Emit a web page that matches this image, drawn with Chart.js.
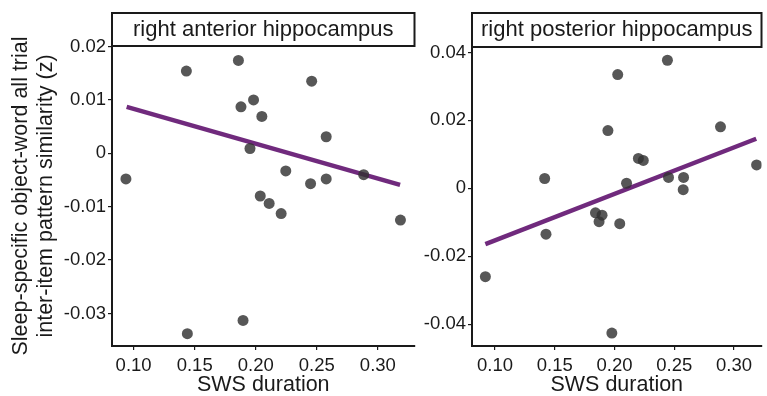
<!DOCTYPE html>
<html>
<head>
<meta charset="utf-8">
<script src="https://cdn.jsdelivr.net/npm/chart.js@4"></script>
<style>
  body { margin: 0; background: #fff; }
  .wrap { position: absolute; top: 0; height: 396px; }
  #leftWrap { left: 0; width: 420px; }
  #rightWrap { left: 420px; width: 347px; }
</style>
</head>
<body>
<div class="wrap" id="leftWrap"><canvas id="leftChart"></canvas></div>
<div class="wrap" id="rightWrap"><canvas id="rightChart"></canvas></div>
<script>
// x ticks shared by both panels
const xTicks = [0.10, 0.15, 0.20, 0.25, 0.30];
const xTickLabels = ['0.10', '0.15', '0.20', '0.25', '0.30'];

// right anterior hippocampus
const antSws = [0.0937, 0.1432, 0.1440, 0.1858, 0.1879, 0.1896, 0.1953, 0.1982, 0.2037, 0.2050,
                0.2110, 0.2208, 0.2246, 0.2449, 0.2458, 0.2577, 0.2577, 0.2884, 0.3185];
const antSim = [-0.0048, 0.0154, -0.0338, 0.0174, 0.0087, -0.0313, 0.0009, 0.0100, -0.0080, 0.0069,
                -0.0094, -0.0113, -0.0033, -0.0057, 0.0135, -0.0048, 0.0031, -0.0040, -0.0125];
const antFitX = [0.0943, 0.3182];
const antFitY = [0.0087, -0.0059];
const antYTicks = [-0.03, -0.02, -0.01, 0, 0.01, 0.02];
const antYTickLabels = ['-0.03', '-0.02', '-0.01', '0', '0.01', '0.02'];

// right posterior hippocampus
const postSws = [0.0920, 0.1416, 0.1427, 0.1841, 0.1871, 0.1896, 0.1945, 0.1978, 0.2027, 0.2044,
                 0.2101, 0.2200, 0.2241, 0.2443, 0.2452, 0.2575, 0.2578, 0.2887, 0.3189];
const postSim = [-0.0260, 0.0029, -0.0135, -0.0072, -0.0098, -0.0079, 0.0170, -0.0426, 0.0335, -0.0104,
                 0.0015, 0.0088, 0.0082, 0.0377, 0.0032, -0.0004, 0.0032, 0.0181, 0.0069];
const postFitX = [0.0920, 0.3186];
const postFitY = [-0.0164, 0.0146];
const postYTicks = [-0.04, -0.02, 0, 0.02, 0.04];
const postYTickLabels = ['-0.04', '-0.02', '0', '0.02', '0.04'];

const yTitle = ['Sleep-specific object-word all trial', 'inter-item pattern similarity (z)'];
const xTitle = 'SWS duration';

const FONT = "'Liberation Sans', Arial, Helvetica, sans-serif";
Chart.defaults.font.family = FONT;
Chart.defaults.color = '#1a1a1a';

// box with the panel name on top of each plot
const stripPlugin = {
  id: 'strip',
  afterDraw(chart, args, opts) {
    const { ctx, chartArea } = chart;
    const right = Math.min(chartArea.right, chart.width - 2);
    ctx.save();
    ctx.strokeStyle = '#1a1a1a';
    ctx.lineWidth = 2;
    ctx.strokeRect(chartArea.left, opts.top, right - chartArea.left, chartArea.top - opts.top);
    ctx.fillStyle = '#1a1a1a';
    ctx.font = '22px ' + FONT;
    ctx.textAlign = 'center';
    ctx.textBaseline = 'middle';
    ctx.fillText(opts.text, (chartArea.left + right) / 2, (opts.top + chartArea.top) / 2);
    ctx.restore();
  }
};

function toPoints(xs, ys) {
  return xs.map((x, i) => ({ x: x, y: ys[i] }));
}

function makePanel(canvasId, o) {
  const ctx = document.getElementById(canvasId).getContext('2d');
  return new Chart(ctx, {
    type: 'scatter',
    data: {
      datasets: [
        {
          data: toPoints(o.xs, o.ys),
          pointRadius: 5.5,
          pointBackgroundColor: 'rgba(50, 50, 50, 0.82)',
          pointBorderWidth: 0,
          order: 1
        },
        {
          data: toPoints(o.fitX, o.fitY),
          showLine: true,
          borderColor: '#702a7d',
          borderWidth: 4.5,
          pointRadius: 0,
          order: 2
        }
      ]
    },
    options: {
      responsive: true,
      maintainAspectRatio: false,
      animation: false,
      layout: { padding: { top: o.padTop, right: o.padRight, left: 0, bottom: 0 } },
      plugins: {
        legend: { display: false },
        tooltip: { enabled: false },
        strip: { text: o.stripText, top: o.stripTop }
      },
      scales: {
        x: {
          type: 'linear',
          min: o.xMin,
          max: o.xMax,
          afterBuildTicks: s => { s.ticks = xTicks.map(v => ({ value: v })); },
          afterFit: s => { s.height = 50; },
          ticks: {
            callback: (v, i) => xTickLabels[i],
            font: { size: 18.5 },
            padding: 5,
            maxRotation: 0
          },
          grid: { drawOnChartArea: false, drawTicks: true, tickLength: 4, color: '#1a1a1a', lineWidth: 1.2 },
          border: { display: true, color: '#1a1a1a', width: 2 },
          title: { display: true, text: xTitle, font: { size: 21.5, lineHeight: 1.0 }, padding: { top: 0, bottom: 0 } }
        },
        y: {
          type: 'linear',
          min: o.yMin,
          max: o.yMax,
          afterBuildTicks: s => { s.ticks = o.yTicks.map(v => ({ value: v })); },
          afterFit: s => { s.width = o.yWidth; },
          ticks: {
            callback: (v, i) => o.yTickLabels[i],
            font: { size: 18.5 },
            padding: 2
          },
          grid: { drawOnChartArea: false, drawTicks: true, tickLength: 4, color: '#1a1a1a', lineWidth: 1.2 },
          border: { display: true, color: '#1a1a1a', width: 2 },
          title: {
            display: o.showYTitle,
            text: yTitle,
            font: { size: 21.5, lineHeight: 1.14 },
            padding: { top: 9, bottom: 0 }
          }
        }
      }
    },
    plugins: [stripPlugin]
  });
}

makePanel('leftChart', {
  xs: antSws, ys: antSim, fitX: antFitX, fitY: antFitY,
  yTicks: antYTicks, yTickLabels: antYTickLabels,
  xMin: 0.0823, xMax: 0.330, yMin: -0.0361, yMax: 0.0201,
  yWidth: 112, padTop: 46, padRight: 4, stripTop: 13,
  stripText: 'right anterior hippocampus', showYTitle: true
});

makePanel('rightChart', {
  xs: postSws, ys: postSim, fitX: postFitX, fitY: postFitY,
  yTicks: postYTicks, yTickLabels: postYTickLabels,
  xMin: 0.0808, xMax: 0.323, yMin: -0.0464, yMax: 0.0416,
  yWidth: 52, padTop: 47, padRight: 0, stripTop: 13,
  stripText: 'right posterior hippocampus', showYTitle: false
});
</script>
</body>
</html>
